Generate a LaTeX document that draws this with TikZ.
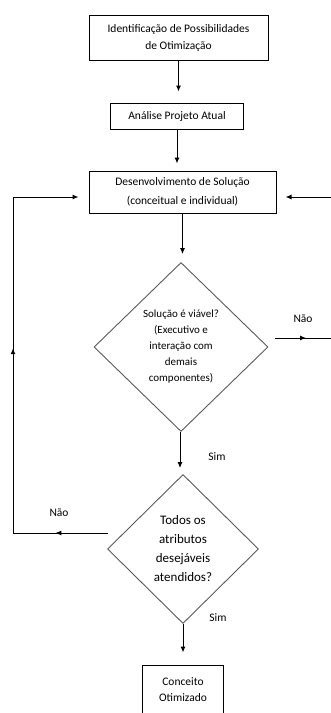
\documentclass[tikz,border=0pt]{standalone}
\usepackage{fontspec}
\setmainfont{Carlito}
\usetikzlibrary{shapes.geometric,arrows.meta,decorations.markings}

\tikzset{
  caixa/.style={draw=black, line width=1pt, rectangle, align=center, inner sep=0pt, font=\fontsize{11.5}{17}\selectfont},
  decisao/.style={draw=black!65, line width=0.9pt, diamond, align=center, inner sep=0pt},
  seta/.style={-{Latex[length=6pt,width=5pt]}, line width=1pt},
  setameio/.style={line width=1pt, line cap=rect, postaction={decorate},
    decoration={markings, mark=at position 0.55 with {\arrow{Latex[length=6pt,width=5pt]}}}},
  rotulo/.style={font=\fontsize{11.5}{14}\selectfont},
}

\begin{document}
\begin{tikzpicture}[x=1pt,y=-1pt]
    \clip (0,0) rectangle (331,713);

    \node[caixa, minimum width=179pt, minimum height=45pt] (identif) at (178.5,37.5) {Identificação de Possibilidades\\de Otimização};
    \node[caixa, minimum width=133pt, minimum height=26pt] (analise) at (177,116) {Análise Projeto Atual};
    \node[caixa, minimum width=187pt, minimum height=42pt, font=\fontsize{11.5}{19}\selectfont] (desenv) at (182.5,192) {Desenvolvimento de Solução\\(conceitual e individual)};
    \node[decisao, minimum width=174pt, minimum height=169pt, font=\fontsize{11}{16}\selectfont] (viavel) at (181,347) {Solução é viável?\\(Executivo e\\interação com\\demais\\componentes)};
    \node[decisao, minimum width=151pt, minimum height=149pt, font=\fontsize{13}{19}\selectfont] (atrib) at (183,549) {Todos os\\atributos\\desejáveis\\atendidos?};
    \node[caixa, minimum width=81pt, minimum height=50pt, font=\fontsize{11.5}{16}\selectfont] (conceito) at (183,690) {Conceito\\Otimizado};

    \coordinate (borda1) at (331,338);
    \coordinate (borda2) at (331,197);
    \coordinate (canto1) at (13,533);
    \coordinate (canto2) at (13,197);

    \draw[seta, shorten >=11pt] (identif.south) -- (identif.south |- analise.north);
    \draw[seta, shorten >=7pt] (analise.south) -- (analise.south |- desenv.north);
    \draw[seta, shorten >=8pt] (desenv.south) -- (desenv.south |- viavel.north);
    \draw[seta, shorten >=6pt] ([xshift=-1pt]viavel.south) -- ([xshift=-1pt]viavel.south |- atrib.north);
    \draw[seta, shorten >=12pt] (atrib.south) -- (atrib.south |- conceito.north);

    \draw[setameio] ([xshift=7pt,yshift=9pt]viavel.east) -- (borda1);
    \draw[seta, shorten >=9pt] (borda2) -- (borda2 -| desenv.east);

    \draw[setameio] ([yshift=16pt]atrib.west) -- (canto1);
    \draw[setameio] (canto1) -- (canto2);
    \draw[seta, shorten >=10pt] (canto2) -- (canto2 -| desenv.west);

    \node[rotulo] (nao1) at (303,319) {Não};
    \node[rotulo] (sim1) at (217,457) {Sim};
    \node[rotulo] (nao2) at (59,513) {Não};
    \node[rotulo] (sim2) at (218,618) {Sim};
\end{tikzpicture}
\end{document}
